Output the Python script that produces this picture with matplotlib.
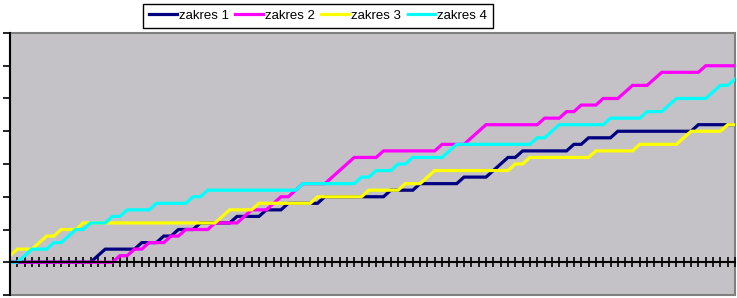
import matplotlib
matplotlib.use("Agg")
import matplotlib.pyplot as plt
from matplotlib.patches import Rectangle

# cumulative counts per category (100 categories)
zakres_1 = [0] * 12 + [1] + [2] * 5 + [3] * 3 + [4] * 2 + [5] * 3 + [6] * 5 + [7] * 4 \
    + [8] * 3 + [9] * 5 + [10] * 9 + [11] * 4 + [12] * 6 + [13] * 4 + [14] + [15] \
    + [16] * 2 + [17] * 7 + [18] * 2 + [19] * 4 + [20] * 11 + [21] * 6
zakres_2 = [0] * 15 + [1] * 2 + [2] * 2 + [3] * 3 + [4] * 2 + [5] * 4 + [6] * 4 + [7] \
    + [8] * 3 + [9] + [10] * 2 + [11] + [12] * 4 + [13] + [14] + [15] + [16] * 4 \
    + [17] * 8 + [18] * 4 + [19] + [20] + [21] * 8 + [22] * 3 + [23] * 2 + [24] * 3 \
    + [25] * 3 + [26] + [27] * 3 + [28] + [29] * 6 + [30] * 5
zakres_3 = [1] + [2] * 3 + [3] + [4] * 2 + [5] * 3 + [6] * 19 + [7] + [8] * 4 + [9] * 8 \
    + [10] * 7 + [11] * 5 + [12] * 3 + [13] + [14] * 11 + [15] * 2 + [16] * 9 \
    + [17] * 6 + [18] * 6 + [19] + [20] * 5 + [21] * 2
zakres_4 = [0] * 2 + [1] + [2] * 3 + [3] * 2 + [4] + [5] * 2 + [6] * 3 + [7] * 2 \
    + [8] * 4 + [9] * 5 + [10] * 2 + [11] * 13 + [12] * 8 + [13] * 2 + [14] * 3 \
    + [15] * 2 + [16] * 5 + [17] + [18] * 11 + [19] * 2 + [20] + [21] * 7 + [22] * 5 \
    + [23] * 3 + [24] + [25] * 5 + [26] + [27] * 2 + [28]

series = [
    ("zakres 1", zakres_1, "#000080"),
    ("zakres 2", zakres_2, "#ff00ff"),
    ("zakres 3", zakres_3, "#ffff00"),
    ("zakres 4", zakres_4, "#00ffff"),
]

plt.rcParams["font.family"] = ["Liberation Sans", "DejaVu Sans"]

fig = plt.figure(figsize=(7.37, 2.98), dpi=100)
ax = fig.add_axes([10 / 737, 3 / 298, 725 / 737, 262 / 298])
ax.set_facecolor("#c4c2c6")

x = list(range(len(zakres_1)))
for name, vals, col in series:
    ax.plot(x, vals, color=col, lw=2.3, label=name, solid_joinstyle="miter")

ax.set_xlim(0, len(x) - 1)
ax.set_ylim(-5, 35)
ax.set_yticks(range(-5, 36, 5))
ax.set_xticks(x)
ax.set_xticklabels([])
ax.set_yticklabels([])

for s in ("top", "right"):
    ax.spines[s].set_visible(False)
ax.spines["bottom"].set_position(("data", 0))
ax.spines["bottom"].set_linewidth(1.5)
ax.spines["left"].set_linewidth(1.5)
ax.tick_params(axis="x", direction="inout", length=7, width=1.2, color="black")
ax.tick_params(axis="y", direction="out", length=5, width=1.2, color="black")

# plot-area border
ax.add_patch(Rectangle((0, 0), 1, 1, transform=ax.transAxes, fill=False,
                       edgecolor="#808080", lw=1.5, clip_on=False, zorder=0.5))

leg = fig.legend(loc="center", bbox_to_anchor=(318 / 737, 1 - 16 / 298), ncol=4,
                 fontsize=9.5, handlelength=2.1, handletextpad=0.15,
                 columnspacing=0.5, borderpad=0.45, fancybox=False,
                 edgecolor="black", framealpha=1)
leg.get_frame().set_linewidth(1.0)

fig.savefig("out.png", dpi=100)
